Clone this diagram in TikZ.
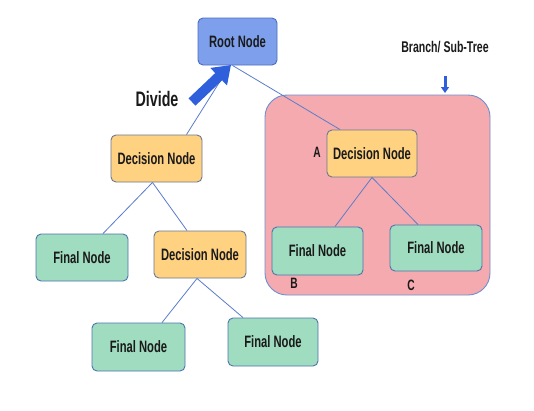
\documentclass[tikz,border=0pt]{standalone}
\usepackage{fontspec}
\newfontfamily\nar{Liberation Sans}[FakeStretch=0.68]
\usetikzlibrary{arrows.meta,calc}
\definecolor{rootfill}{HTML}{7EA0EC}
\definecolor{rootdraw}{HTML}{4A6CC0}
\definecolor{decfill}{HTML}{FFD282}
\definecolor{decdraw}{HTML}{6A7890}
\definecolor{finfill}{HTML}{9FDCC0}
\definecolor{findraw}{HTML}{4F74B0}
\definecolor{pinkfill}{HTML}{F4AAAE}
\definecolor{pinkdraw}{HTML}{6F8FD0}
\definecolor{linec}{HTML}{5A7DCB}
\definecolor{arrowc}{HTML}{2F5FDB}
\definecolor{txt}{HTML}{1A1A1A}
\begin{document}
\begin{tikzpicture}[x=1pt,y=-1pt,
  box/.style={rounded corners=5pt, line width=0.9pt, align=center, inner sep=0pt,
    text=txt, font=\nar\bfseries\fontsize{16.5}{18}\selectfont},
  rootbox/.style={box, fill=rootfill, draw=rootdraw},
  decbox/.style={box, fill=decfill, draw=decdraw},
  finbox/.style={box, fill=finfill, draw=findraw},
  conn/.style={draw=linec, line width=0.8pt},
  lbl/.style={text=txt, font=\nar\bfseries\fontsize{15}{17}\selectfont, inner sep=0pt}
]
\useasboundingbox (0,0) rectangle (534,410);
\fill[white] (0,0) rectangle (534,410);

% branch region
\node[draw=pinkdraw, fill=pinkfill, line width=0.9pt, rounded corners=22pt,
  minimum width=225pt, minimum height=200pt, inner sep=0pt] (region) at (377.5,195) {};

% nodes
\node[rootbox, minimum width=79pt, minimum height=47pt] (root) at (237.5,41.5) {Root Node};
\node[decbox, minimum width=91pt, minimum height=47pt] (dn1) at (156.5,158.5) {Decision Node};
\node[finbox, minimum width=92pt, minimum height=47pt] (fl) at (82,257.5) {Final Node};
\node[decbox, minimum width=92pt, minimum height=47pt] (dn2) at (200,254.5) {Decision Node};
\node[finbox, minimum width=93pt, minimum height=48pt] (fbl) at (138.5,347) {Final Node};
\node[finbox, minimum width=90pt, minimum height=48pt] (fbr) at (273,342) {Final Node};
\node[decbox, minimum width=90pt, minimum height=47pt] (a) at (372,153.5) {Decision Node};
\node[finbox, minimum width=91pt, minimum height=48pt] (b) at (317.5,251) {Final Node};
\node[finbox, minimum width=92pt, minimum height=46pt] (c) at (436,248) {Final Node};

% connectors
\draw[conn] ([xshift=-7.5pt]root.south) -- ([xshift=30pt]dn1.north);
\draw[conn] ([xshift=-5pt]root.south) -- ([xshift=-32pt]a.north);
\draw[conn] ([xshift=-4pt]dn1.south) -- ([xshift=21pt]fl.north);
\draw[conn] ([xshift=-4pt]dn1.south) -- ([xshift=-13pt]dn2.north);
\draw[conn] ([xshift=-3pt]dn2.south) -- ([xshift=23.5pt]fbl.north);
\draw[conn] ([xshift=-3pt]dn2.south) -- ([xshift=-30pt]fbr.north);
\draw[conn] (a.south) -- ([xshift=17.5pt]b.north);
\draw[conn] (a.south) -- ([xshift=-18pt]c.north);

% divide arrow
\coordinate (dvs) at (192,102);
\coordinate (dve) at (231,65);
\draw[arrowc, line width=10pt, -{Triangle[width=23pt,length=17pt]}] (dvs) -- (dve);
\node[lbl, font=\nar\bfseries\fontsize{21}{23}\selectfont] (divide) at (157,99) {Divide};

% labels
\node[lbl] (la) at (317,152) {A};
\node[lbl] (lb) at (294,283) {B};
\node[lbl] (lc) at (411,285) {C};
\node[lbl, font=\nar\bfseries\fontsize{15.5}{17}\selectfont] (branch) at (445,47) {Branch/ Sub-Tree};
\coordinate (brs) at (445,76);
\coordinate (bre) at (445,93);
\draw[arrowc, line width=3pt, -{Triangle[width=8pt,length=6pt]}] (brs) -- (bre);
\end{tikzpicture}
\end{document}
